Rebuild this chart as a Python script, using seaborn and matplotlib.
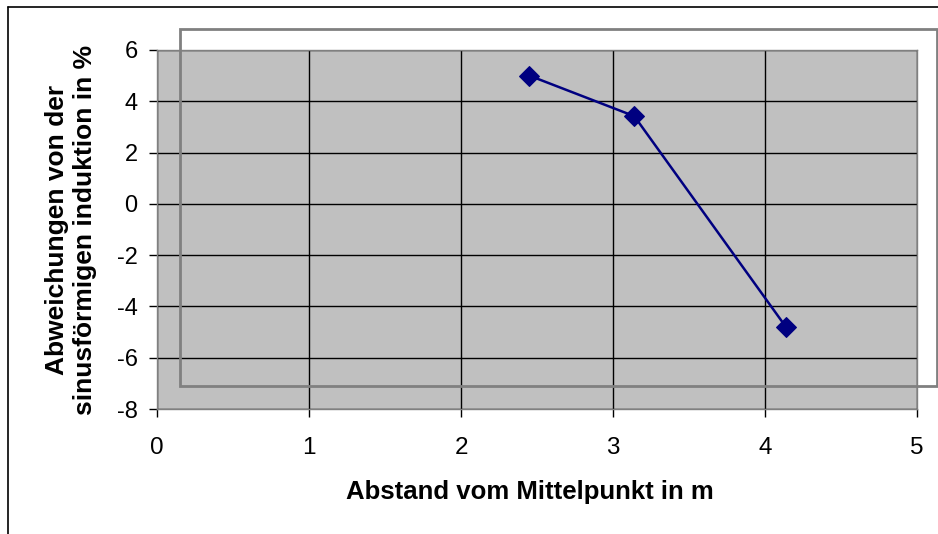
import matplotlib
matplotlib.use("Agg")
import matplotlib.pyplot as plt
from matplotlib.patches import Rectangle
from matplotlib.lines import Line2D
import seaborn as sns
import pandas as pd

# Measured deviations
abstand_m = [2.45, 3.14, 4.14]
abweichung_pct = [5.0, 3.42, -4.82]
x_ticks = [0, 1, 2, 3, 4, 5]
y_ticks = [-8, -6, -4, -2, 0, 2, 4, 6]

df = pd.DataFrame({"abstand": abstand_m, "abweichung": abweichung_pct})

sns.set_style("white")
plt.rcParams["font.family"] = ["Liberation Sans", "DejaVu Sans"]
plt.rcParams["text.color"] = "black"
plt.rcParams["axes.labelcolor"] = "black"
plt.rcParams["xtick.color"] = "black"
plt.rcParams["ytick.color"] = "black"

W, H = 938, 534
fig = plt.figure(figsize=(W / 100, H / 100), dpi=100)
ax = fig.add_axes([157 / W, 1 - 409 / H, (917 - 157) / W, (409 - 50) / H])
ax.set_facecolor("#C0C0C0")

sns.lineplot(data=df, x="abstand", y="abweichung", ax=ax, color="#000080",
             linewidth=1.8, marker="D", markersize=10, markeredgecolor="#000080",
             zorder=5)

ax.set_xlim(0, 5)
ax.set_ylim(-8, 6)
ax.set_xticks(x_ticks)
ax.set_yticks(y_ticks)
ax.set_xticklabels([str(v) for v in x_ticks])
ax.set_yticklabels([str(v) for v in y_ticks])
ax.grid(True, color="black", linewidth=1.0)
ax.set_axisbelow(True)
for s in ax.spines.values():
    s.set_color("#808080")
    s.set_linewidth(1.0)
ax.tick_params(axis="both", which="major", length=6, width=1, color="black",
               labelcolor="black", direction="out")
ax.tick_params(axis="y", pad=8, labelsize=17)
ax.tick_params(axis="x", pad=14, labelsize=17.5)
ax.xaxis.set_ticks_position("bottom")
ax.yaxis.set_ticks_position("left")

ax.set_xlabel("Abstand vom Mittelpunkt in m", fontsize=18.5, fontweight="bold",
              labelpad=15, color="black")
ax.xaxis.label.set_x(0.49)
ax.set_ylabel("Abweichungen von der\nsinusförmigen induktion in %", fontsize=19,
              fontweight="bold", labelpad=14, linespacing=1.2, color="black")

# Gray frame drawn over the plot area
fig.add_artist(Rectangle((180 / W, 1 - 386 / H), (937 - 180) / W, (386 - 29) / H,
                         transform=fig.transFigure, fill=False,
                         edgecolor="#808080", linewidth=2.0, zorder=4))

# Chart area border (left and top)
fig.add_artist(Line2D([8 / W, 8 / W], [0, 1 - 7 / H], transform=fig.transFigure,
                      color="black", linewidth=1.2))
fig.add_artist(Line2D([8 / W, 1], [1 - 7 / H, 1 - 7 / H], transform=fig.transFigure,
                      color="black", linewidth=1.2))

fig.savefig("out.png", dpi=100)
